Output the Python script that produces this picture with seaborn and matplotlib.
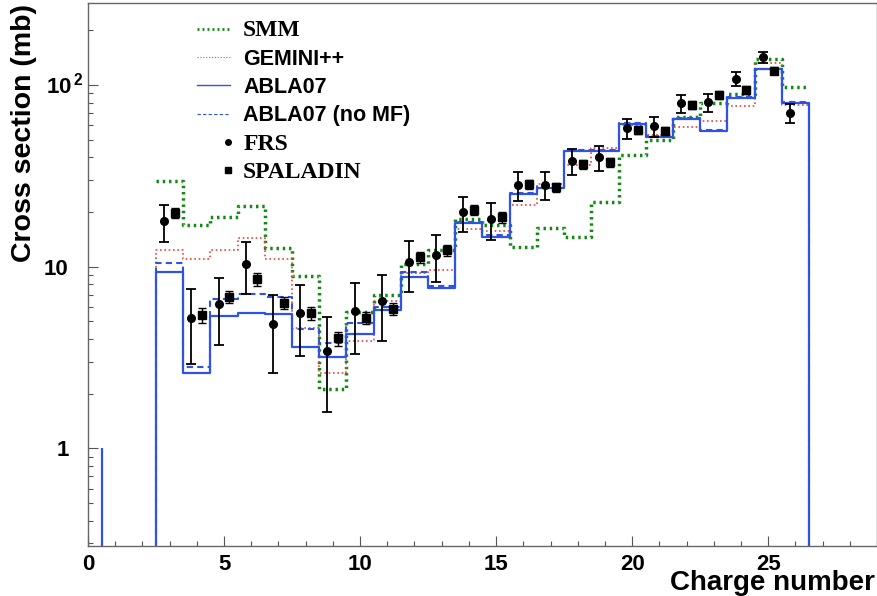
import matplotlib
matplotlib.use('Agg')
import matplotlib.pyplot as plt
import seaborn as sns
import numpy as np
from matplotlib.lines import Line2D
from matplotlib.legend_handler import HandlerLine2D
from matplotlib.ticker import FixedLocator, LogLocator, MultipleLocator, NullFormatter
from matplotlib.transforms import ScaledTranslation

# Data: cross sections (mb) per charge number Z
z_model = list(range(3, 27))
abla = [9.3, 2.6, 5.35, 5.55, 5.5, 3.62, 3.2, 4.24, 5.75, 8.8, 7.6, 17.3,
        14.6, 25.1, 27.0, 43.4, 43.4, 60.7, 51.9, 64.7, 56.0, 85.0, 122.0, 79.8]
abla_nomf = [10.5, 2.81, 6.6, 7.04, 6.83, 4.54, 3.81, 4.9, 6.0, 9.4, 7.8, 17.6,
             15.0, 25.5, 27.3, 43.8, 43.8, 61.5, 52.5, 65.5, 56.5, 86.0, 123.0, 80.5]
gemini = [12.3, 11.0, 12.3, 14.3, 11.0, 4.6, 2.6, 3.9, 6.5, 9.2, 9.6, 16.1,
          15.7, 21.8, 28.5, 36.2, 44.8, 60.0, 53.0, 58.4, 63.5, 76.9, 132.0, 77.5]
smm = [29.7, 16.9, 18.8, 21.6, 12.6, 8.9, 2.12, 5.6, 7.0, 10.3, 12.3, 18.4,
       17.0, 12.8, 16.4, 14.6, 22.6, 41.1, 49.8, 66.8, 79.2, 89.0, 140.0, 97.8]

# lone ABLA07 entry near Z=1
abla_spike_z = [0.5]
abla_spike_top = [1.0]

frs_z = list(range(3, 27))
frs = [17.8, 5.23, 6.22, 10.4, 4.81, 5.57, 3.44, 5.7, 6.47, 10.6, 11.6, 19.9,
       18.2, 28.1, 28.3, 38.1, 40.0, 57.7, 59.4, 79.2, 80.2, 108.0, 142.0, 70.3]
frs_err = [4.2, 2.3, 2.5, 3.3, 2.2, 2.35, 1.85, 2.4, 2.55, 3.3, 3.35, 4.4,
           4.2, 5.2, 5.1, 6.2, 6.2, 7.3, 7.5, 8.9, 9.0, 9.5, 10.5, 8.3]

spal_z = list(range(3, 26))
spal = [19.8, 5.41, 6.83, 8.51, 6.33, 5.53, 4.03, 5.24, 5.84, 11.3, 12.3, 20.5,
        18.7, 28.5, 27.4, 36.7, 37.5, 56.5, 56.0, 77.5, 88.0, 93.8, 120.0]
spal_err = [1.2, 0.5, 0.5, 0.7, 0.5, 0.45, 0.35, 0.4, 0.45, 0.8, 0.8, 1.3,
            1.2, 1.7, 1.6, 2.0, 2.0, 2.8, 2.8, 3.8, 4.2, 4.5, 5.5]

plt.rcParams['font.family'] = 'Liberation Sans'
plt.rcParams['font.weight'] = 'bold'
plt.rcParams['mathtext.fontset'] = 'custom'
plt.rcParams['mathtext.bf'] = 'Liberation Sans:bold'
plt.rcParams['mathtext.rm'] = 'Liberation Sans:bold'


def steps(z, vals, close):
    # histogram outline points for drawstyle='steps-post'
    edges = [zi - 0.5 for zi in z] + [z[-1] + 0.5]
    x = list(edges)
    y = list(vals) + [vals[-1]]
    if close:
        x = [edges[0]] + x + [edges[-1]]
        y = [0.0] + y + [0.0]
    return x, y


fig = plt.figure(figsize=(8.78, 5.96), dpi=100)
ax = fig.add_axes([88 / 878, 50 / 596, 789 / 878, 543 / 596])

green = '#118a11'
red = '#e8453c'
blue = '#2f52e8'

x, y = steps(z_model, smm, False)
sns.lineplot(x=x, y=y, ax=ax, estimator=None, sort=False, drawstyle='steps-post',
             color=green, lw=2.5, ls=(0, (0.7, 1.1)), zorder=2)
x, y = steps(z_model, gemini, True)
sns.lineplot(x=x, y=y, ax=ax, estimator=None, sort=False, drawstyle='steps-post',
             color=red, lw=1.2, ls=(0, (1, 1.6)), zorder=3)
x, y = steps(z_model, abla_nomf, True)
sns.lineplot(x=x, y=y, ax=ax, estimator=None, sort=False, drawstyle='steps-post',
             color=blue, lw=1.5, ls=(0, (3, 2)), zorder=4)
x, y = steps(z_model, abla, True)
sns.lineplot(x=x, y=y, ax=ax, estimator=None, sort=False, drawstyle='steps-post',
             color=blue, lw=1.6, zorder=5)
ax.vlines(abla_spike_z, 0, abla_spike_top, color=blue, lw=1.6, zorder=5)

dodge = 0.2
ax.errorbar(np.array(frs_z) - dodge, frs, yerr=frs_err, fmt='o', color='black',
            ms=5.5, elinewidth=1.3, capsize=3.5, capthick=1.3, zorder=6)
ax.errorbar(np.array(spal_z) + dodge, spal, yerr=spal_err, fmt='s', color='black',
            ms=5.5, elinewidth=1.0, capsize=3, capthick=1.0, zorder=6)

ax.set_yscale('log')
ax.set_xlim(0, 29)
ax.set_ylim(0.29, 283)
ax.set_xlabel('')
ax.set_ylabel('')

ax.xaxis.set_major_locator(MultipleLocator(5))
ax.xaxis.set_minor_locator(MultipleLocator(1))
ax.yaxis.set_major_locator(FixedLocator([1, 10, 100]))
ax.yaxis.set_minor_locator(LogLocator(subs=np.arange(2, 10)))
ax.yaxis.set_minor_formatter(NullFormatter())
ax.set_yticklabels(['1', '10', r'$\mathbf{10^{\,2}}$'])
ax.tick_params(which='both', direction='in', top=False, right=False,
               colors='#555555', labelcolor='black', width=0.8)
ax.tick_params(which='major', length=7, labelsize=16)
ax.tick_params(which='minor', length=3.5)
ax.tick_params(axis='y', pad=14)
ax.tick_params(axis='x', pad=6)
for s in ax.spines.values():
    s.set_color('#666666')
    s.set_linewidth(1.0)

# let the exponent of 10^2 hang out to the right, as in the original
lab = ax.yaxis.get_major_ticks()[2].label1
lab.set_transform(lab.get_transform() + ScaledTranslation(0.15, 0.02, fig.dpi_scale_trans))


class RightMarker(HandlerLine2D):
    # put the legend marker near the right end of the handle
    def get_xdata(self, legend, xdescent, ydescent, width, height, fontsize):
        m = -xdescent + 0.92 * width
        return [m - 1, m + 1], [m]


handles = [
    Line2D([], [], color=green, lw=2.0, ls=(0, (0.7, 1.1))),
    Line2D([], [], color=red, lw=0.8, ls=(0, (1, 1.6))),
    Line2D([], [], color=blue, lw=1.0),
    Line2D([], [], color=blue, lw=0.8, ls=(0, (3, 2))),
    Line2D([], [], color='black', marker='o', ls='none', ms=4),
    Line2D([], [], color='black', marker='s', ls='none', ms=4),
]
labels = ['SMM', 'GEMINI++', 'ABLA07', 'ABLA07 (no MF)', 'FRS', 'SPALADIN']
hmap = {handles[4]: RightMarker(), handles[5]: RightMarker()}
leg = ax.legend(handles, labels, loc='upper left', bbox_to_anchor=(0.138, 0.968),
                frameon=False, fontsize=15.5, handlelength=1.55, handletextpad=0.6,
                labelspacing=0.34, borderpad=0, borderaxespad=0, handler_map=hmap)
for i, t in enumerate(leg.get_texts()):
    if labels[i] in ('SMM', 'FRS', 'SPALADIN'):
        t.set_fontfamily('Liberation Serif')
        t.set_fontsize(17)
    t.set_fontweight('bold')

fig.text(24 / 878, 1 - 4 / 596, 'Cross section (mb)', rotation=90, ha='center',
         va='top', fontsize=20.5, fontweight='bold')
fig.text(0.997, 1 - 590 / 596, 'Charge number', ha='right', va='baseline',
         fontsize=20, fontweight='bold')

fig.savefig('out.png', dpi=100)
